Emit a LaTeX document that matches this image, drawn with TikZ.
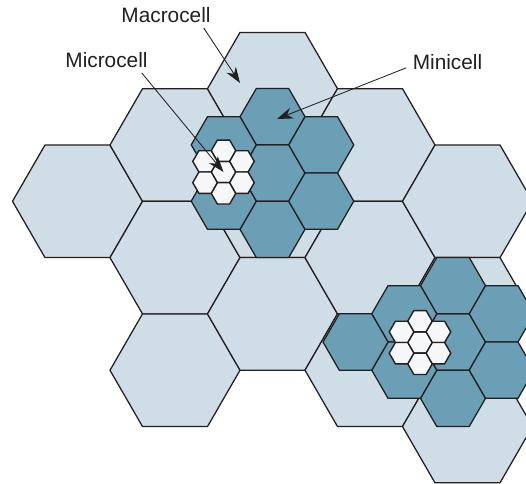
\documentclass[tikz,border=0pt]{standalone}
\usepackage{fontspec}
\setmainfont{Liberation Sans}
\usetikzlibrary{arrows.meta, shapes.geometric}
\definecolor{clight}{HTML}{CFDDE6}
\definecolor{cdark}{HTML}{6A9FB5}
\definecolor{cwhite}{HTML}{F6F7F9}
\definecolor{cline}{HTML}{231F20}
\tikzset{
  every picture/.style={line width=0.9pt},
  cell/.style={regular polygon, regular polygon sides=6, draw=cline, fill=#1, inner sep=0pt, outer sep=0pt},
  macro/.style={cell=clight, minimum size=3.25cm},
  mini/.style={cell=cdark, minimum size=1.625cm},
  micro/.style={cell=cwhite, minimum size=0.615cm, line width=1pt},
  arrow/.style={-{Stealth[length=4mm, width=2.8mm]}, draw=cline, line width=0.6pt},
  tag/.style={font=\fontsize{14.8}{17}\selectfont, text=cline, inner sep=0pt, anchor=base},
}

\begin{document}
\begin{tikzpicture}[x=0.025cm, y=-0.025cm]
  \useasboundingbox (0,0) rectangle (526,483);
  \clip (0,0) rectangle (526,483);
  % macrocells
  \foreach \n/\x/\y in {M1/77.5/201.3, M2/175/145, M3/175/257.6, M4/175/370.2, M5/272.5/88.7, M6/272.5/201.3, M7/272.5/313.9,
                        M8/370/145, M9/370/257.6, M10/370/370.2, M11/467.5/201.3, M12/467.5/313.9, M13/467.5/426.5}
    \node[macro] (\n) at (\x,\y) {};
  % minicells, two clusters
  \foreach \n/\x/\y in {a1/272.5/173, a2/272.5/116.7, a3/272.5/229.3, a4/223.75/144.85, a5/223.75/201.15, a6/321.25/144.85, a7/321.25/201.15,
                        b1/453/342, b2/453/285.7, b3/453/398.3, b4/404.25/313.85, b5/404.25/370.15, b6/501.75/313.85, b7/501.75/370.15, b8/355.5/342}
    \node[mini] (\n) at (\x,\y) {};
  % microcells
  \foreach \cx/\cy [count=\i] in {223.5/172, 420/342.5}
    \foreach \dx/\dy [count=\j] in {0/0, 0/-21.3, 0/21.3, -18.45/-10.65, -18.45/10.65, 18.45/-10.65, 18.45/10.65}
      \node[micro] (u\i\j) at (\cx+\dx,\cy+\dy) {};
  % labels and arrows
  \node[tag] (lmacro) at (166,22) {Macrocell};
  \node[tag] (lmicro) at (106.5,67) {Microcell};
  \node[tag] (lmini) at (447.5,69) {Minicell};
  \coordinate (macro-tip) at (240,83);
  \coordinate (mini-tip) at (277,119);
  \draw[arrow] ([shift={(-7.5,5)}]lmacro.south east) -- (macro-tip);
  \draw[arrow] ([shift={(-6.5,5)}]lmicro.south east) -- (u11.center);
  \draw[arrow] ([shift={(-6,-2)}]lmini.south west) -- (mini-tip);
\end{tikzpicture}
\end{document}
